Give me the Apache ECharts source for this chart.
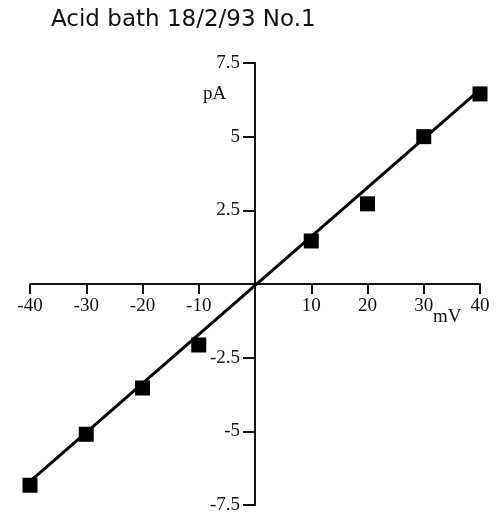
<!DOCTYPE html>
<html>
<head>
<meta charset="utf-8">
<script src="https://cdn.jsdelivr.net/npm/echarts@6/dist/echarts.min.js"></script>
<style>html,body{margin:0;padding:0;background:#fff;}#c{width:501px;height:518px;}</style>
</head>
<body>
<div id="c"></div>
<script>
var titleText = 'Acid bath 18/2/93 No.1';
var voltages = [-40, -30, -20, -10, 10, 20, 30, 40];
var currents = [-6.83, -5.1, -3.53, -2.07, 1.46, 2.72, 5.0, 6.45];
var fitX = [-40, 40];
var fitY = [-6.7, 6.6];
var xTicks = [-40, -30, -20, -10, 10, 20, 30, 40];
var yTickLabels = ['-7.5', '-5', '-2.5', '2.5', '5', '7.5'];
var xName = 'mV';
var yName = 'pA';

var GRID = {left: 30, top: 63, width: 450, height: 442};
var chart = echarts.init(document.getElementById('c'), null, {renderer: 'canvas'});
var serif = 'Liberation Serif';
chart.setOption({
  animation: false,
  backgroundColor: '#fff',
  title: {
    text: titleText, left: 46, top: 4,
    textStyle: {fontFamily: 'DejaVu Sans', fontSize: 23, fontWeight: 'normal', color: '#111'}
  },
  grid: {left: GRID.left, top: GRID.top, width: GRID.width, height: GRID.height, containLabel: false},
  xAxis: {
    type: 'value', min: -40, max: 40, interval: 10,
    position: 'bottom', offset: -GRID.height / 2,
    axisLine: {onZero: false, lineStyle: {color: '#111', width: 2}},
    axisTick: {show: true, inside: false, length: 10, lineStyle: {color: '#111', width: 2}},
    axisLabel: {
      margin: 13, fontFamily: serif, fontSize: 19, color: '#111',
      formatter: function (v) { return xTicks.indexOf(v) >= 0 ? String(v) : ''; }
    },
    splitLine: {show: false}
  },
  yAxis: {
    type: 'value', min: -7.5, max: 7.5, interval: 2.5,
    position: 'left', offset: -GRID.width / 2,
    axisLine: {onZero: false, lineStyle: {color: '#111', width: 2}},
    axisTick: {show: true, inside: false, length: 12, lineStyle: {color: '#111', width: 2}},
    axisLabel: {
      margin: 15, fontFamily: serif, fontSize: 19, color: '#111',
      formatter: function (v) { var s = String(v); return yTickLabels.indexOf(s) >= 0 ? s : ''; }
    },
    splitLine: {show: false}
  },
  graphic: [
    {type: 'text', left: 203, top: 85, style: {text: yName, font: '19px "Liberation Serif"', fill: '#111'}},
    {type: 'text', left: 433, top: 308, style: {text: xName, font: '19px "Liberation Serif"', fill: '#111'}}
  ],
  series: [
    {
      type: 'line', data: fitX.map(function (x, i) { return [x, fitY[i]]; }),
      showSymbol: false, lineStyle: {color: '#000', width: 3}, z: 3
    },
    {
      type: 'scatter', data: voltages.map(function (x, i) { return [x, currents[i]]; }),
      symbol: 'rect', symbolSize: 15, itemStyle: {color: '#000', opacity: 1}, z: 4
    }
  ]
});
</script>
</body>
</html>
